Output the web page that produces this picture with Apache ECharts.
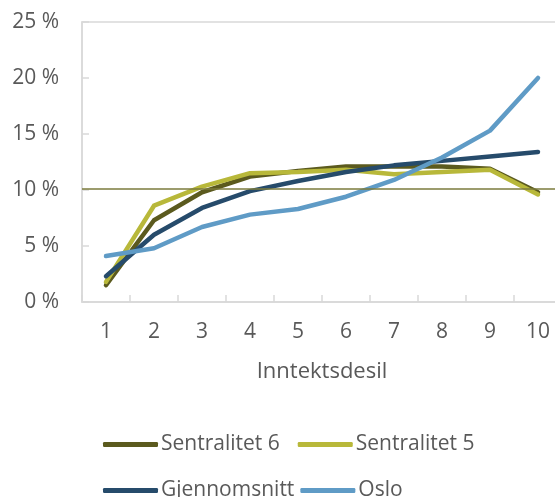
<!DOCTYPE html>
<html>
<head>
<meta charset="utf-8">
<script src="https://cdn.jsdelivr.net/npm/echarts@6/dist/echarts.min.js"></script>
<style>
  html, body { margin: 0; padding: 0; background: #fff; }
  #chart { width: 555px; height: 497px; }
</style>
</head>
<body>
<div id="chart"></div>
<script>
// Share of households per income decile (%)
const deciles = ['1', '2', '3', '4', '5', '6', '7', '8', '9', '10'];
const sentralitet6 = [1.5, 7.3, 9.8, 11.2, 11.7, 12.1, 12.1, 12.1, 11.9, 9.8];
const sentralitet5 = [1.8, 8.6, 10.3, 11.5, 11.6, 11.8, 11.4, 11.6, 11.8, 9.6];
const gjennomsnitt = [2.3, 6.0, 8.4, 9.9, 10.8, 11.6, 12.2, 12.6, 13.0, 13.4];
const oslo = [4.1, 4.8, 6.7, 7.8, 8.3, 9.4, 10.9, 12.9, 15.3, 20.0];
const yTicks = [0, 5, 10, 15, 20, 25];
const referenceLevel = 10.1;

const font = '"Open Sans", "Liberation Sans", sans-serif';
const textColor = '#595959';
const gridColor = '#d9d9d9';

function lineSeries(name, data, color) {
  return {
    name: name,
    type: 'line',
    data: data,
    showSymbol: false,
    symbol: 'none',
    lineStyle: { color: color, width: 4.5, cap: 'round', join: 'round' },
    itemStyle: { color: color }
  };
}

const chart = echarts.init(document.getElementById('chart'));
chart.setOption({
  animation: false,
  grid: {
    left: 82, top: 22, width: 480, bottom: 195,
    outerBoundsMode: 'none',
    containLabel: false,
    show: true, borderColor: gridColor, borderWidth: 1.5, backgroundColor: 'transparent'
  },
  legend: [
    {
      data: ['Sentralitet 6', 'Sentralitet 5'],
      left: 103, top: 434, padding: 0, orient: 'horizontal',
      itemWidth: 55, itemHeight: 5, itemGap: 18,
      icon: 'roundRect',
      textStyle: { fontFamily: font, fontSize: 21, color: textColor, padding: [0, 0, 0, -2] }
    },
    {
      data: ['Gjennomsnitt', 'Oslo'],
      left: 103, top: 480, padding: 0, orient: 'horizontal',
      itemWidth: 55, itemHeight: 5, itemGap: 6,
      icon: 'roundRect',
      textStyle: { fontFamily: font, fontSize: 21, color: textColor, padding: [0, 0, 0, -2] }
    }
  ],
  xAxis: {
    type: 'category',
    data: deciles,
    boundaryGap: true,
    name: 'Inntektsdesil',
    nameLocation: 'middle',
    nameGap: 59,
    nameTextStyle: { fontFamily: font, fontSize: 22, color: textColor },
    axisLine: { lineStyle: { color: gridColor, width: 1.5 } },
    axisTick: { show: true, inside: true, length: 7, lineStyle: { color: gridColor, width: 1.5 } },
    axisLabel: { fontFamily: font, fontSize: 21, color: textColor, margin: 20 },
    splitLine: { show: false }
  },
  yAxis: {
    type: 'value',
    min: yTicks[0],
    max: yTicks[yTicks.length - 1],
    interval: yTicks[1] - yTicks[0],
    axisLine: { show: true, lineStyle: { color: gridColor, width: 1.5 } },
    axisTick: { show: true, inside: true, length: 7, lineStyle: { color: gridColor, width: 1.5 } },
    axisLabel: {
      fontFamily: font, fontSize: 21, color: textColor, margin: 23,
      formatter: v => v + ' %'
    },
    splitLine: { show: false }
  },
  series: [
    lineSeries('Sentralitet 6', sentralitet6, '#5b5a1e'),
    lineSeries('Sentralitet 5', sentralitet5, '#b8b83a'),
    lineSeries('Gjennomsnitt', gjennomsnitt, '#264b6b'),
    lineSeries('Oslo', oslo, '#5f9bc6'),
    {
      name: 'Nivå',
      type: 'line',
      data: [],
      markLine: {
        silent: true,
        symbol: 'none',
        label: { show: false },
        lineStyle: { color: '#7b7b3c', width: 1.5, type: 'solid' },
        data: [{ yAxis: referenceLevel }]
      }
    }
  ]
});
</script>
</body>
</html>
